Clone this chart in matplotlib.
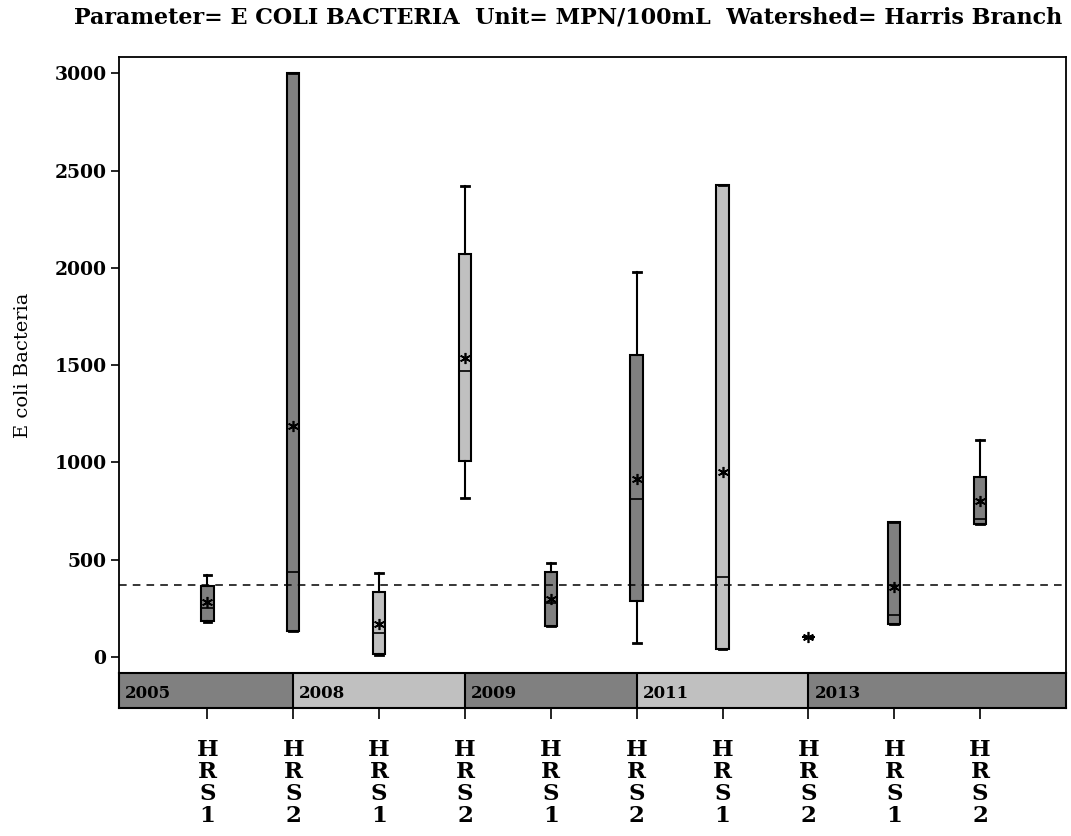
import numpy as np
import matplotlib
matplotlib.use('Agg')
import matplotlib.pyplot as plt

# box statistics per year/site group (MPN/100mL)
years = ['2005', '2008', '2009', '2011', '2013']
sites = ['HRS1', 'HRS2'] * 5
whis_lo = [180, 135, 8, 819, 159, 70, 43, 104, 168, 682]
q1 = [187, 135, 15, 1009, 159, 286, 43, 104, 168, 682]
med = [253, 438, 122, 1470, 276, 810, 413, 104, 214, 709]
q3 = [367, 3000, 332, 2071, 438, 1552, 2425, 104, 692, 927]
whis_hi = [421, 3000, 432, 2422, 485, 1980, 2425, 104, 692, 1115]
means = [283, 1189, 168, 1536, 296, 915, 952, 104, 358, 802]
ref_level = 370
yticks = [0, 500, 1000, 1500, 2000, 2500, 3000]

dark = '#808080'
light = '#c0c0c0'
serif = 'DejaVu Serif'

fig = plt.figure(figsize=(10.71, 8.36), dpi=100)
ax = fig.add_axes([0.1111, 0.195, 0.8842, 0.7372])
band = fig.add_axes([0.1111, 0.1531, 0.8842, 0.0419])

pos = np.arange(len(sites))
xlim = (-1.03, 10.0)

stats = []
for i in range(len(sites)):
    stats.append(dict(med=med[i], q1=q1[i], q3=q3[i], whislo=whis_lo[i],
                      whishi=whis_hi[i], mean=means[i], fliers=[]))

bp = ax.bxp(stats, positions=pos, widths=0.145, capwidths=0.09,
            patch_artist=True, showmeans=True, showfliers=False,
            boxprops=dict(edgecolor='black', linewidth=1.5),
            medianprops=dict(color='black', linewidth=1.2),
            whiskerprops=dict(color='black', linewidth=1.5),
            capprops=dict(color='black', linewidth=2),
            meanprops=dict(marker=(6, 2, 0), markersize=8,
                           markeredgecolor='black', markeredgewidth=1.2))
for i, patch in enumerate(bp['boxes']):
    patch.set_facecolor(dark if (i // 2) % 2 == 0 else light)

ax.axhline(ref_level, color='black', linewidth=1.1, linestyle=(0, (5, 4)))

ax.set_xlim(*xlim)
ax.set_ylim(-82, 3085)
ax.set_xticks([])
ax.set_yticks(yticks)
ax.set_yticklabels([str(v) for v in yticks], family=serif,
                   fontweight='bold', fontsize=13.5)
ax.tick_params(axis='y', direction='out', length=6, width=1.2, pad=3)
for s in ax.spines.values():
    s.set_linewidth(1.3)
ax.set_ylabel('E coli Bacteria', family=serif, fontsize=14, labelpad=16)

# year band below the plot, each block ends at the HRS2 position
edges = [xlim[0]] + [pos[2 * k + 1] for k in range(len(years) - 1)] + [xlim[1]]
for k, yr in enumerate(years):
    band.axvspan(edges[k], edges[k + 1], color=dark if k % 2 == 0 else light,
                 zorder=0)
    if k > 0:
        band.axvline(edges[k], color='black', linewidth=1.5)
    band.text(edges[k] + 0.07, 0.42, yr, family=serif, fontweight='bold',
              fontsize=12, va='center', ha='left')
band.set_xlim(*xlim)
band.set_ylim(0, 1)
band.set_yticks([])
band.set_xticks(pos)
band.set_xticklabels(['\n'.join(s) for s in sites], family=serif,
                     fontweight='bold', fontsize=16.5, linespacing=1.0)
band.tick_params(axis='x', direction='out', length=8, width=1.2, pad=14)
for s in band.spines.values():
    s.set_linewidth(1.5)

fig.text(0.53, 0.979, 'Parameter= E COLI BACTERIA  Unit= MPN/100mL  '
         'Watershed= Harris Branch', family=serif, fontweight='bold',
         fontsize=16, ha='center', va='center')

fig.savefig('out.png', dpi=100)
